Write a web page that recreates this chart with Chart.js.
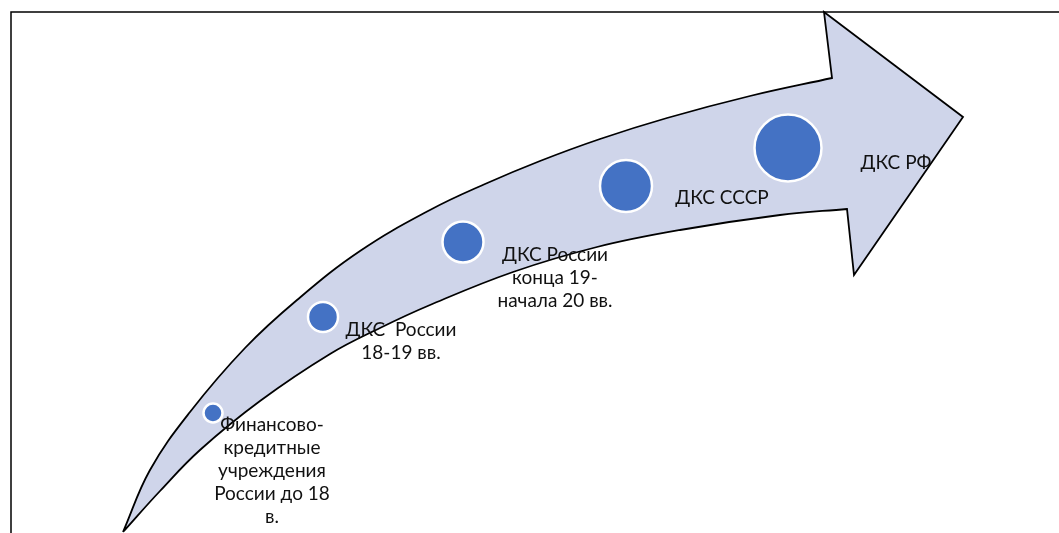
<!DOCTYPE html>
<html>
<head>
<meta charset="utf-8">
<script src="https://cdn.jsdelivr.net/npm/chart.js@4/dist/chart.umd.min.js"></script>
<style>
  html, body { margin: 0; padding: 0; background: #ffffff; }
  #wrap { width: 1059px; height: 533px; }
</style>
</head>
<body>
<div id="wrap"><canvas id="c" width="1059" height="533"></canvas></div>
<script>
// ---- data (diagram units: x to the right, y downward) ----
const arrowUpperEdge = [[123,532],[150,470],[190,412],[245,348],[297,300],[360,251],[430,210],[485,184],[540,161],[600,139],[667,118],[750,96],[832,78]];
const arrowHead = [[824,12],[963,117],[854,275],[847,209]];
const arrowLowerEdge = [[780,215],[680,230],[597,247],[513,272],[430,305],[380,328],[330,354],[260,401],[200,450],[160,491],[123,532]];

const stageNames = [
  ["Финансово-", "кредитные", "учреждения", "России до 18", "в."],
  ["ДКС  России", "18-19 вв."],
  ["ДКС России", "конца 19-", "начала 20 вв."],
  ["ДКС СССР"],
  ["ДКС РФ"]
];
const bubbleX = [213, 323, 463, 626, 788];
const bubbleY = [413, 317, 242, 186, 148];
const bubbleR = [9.5, 15, 20.5, 26, 33.5];
const labelX = [272, 401, 555, 722, 896];
const labelY = [425, 330, 255, 198, 163];

const frameBox = { left: 11, top: 12, right: 1075, bottom: 550 };

// ---- build datasets ----
// corners are doubled so the smooth line keeps them sharp
const dup = p => [p, p];
const arrowPath = [].concat(
  arrowUpperEdge.slice(0, -1),
  dup(arrowUpperEdge[arrowUpperEdge.length - 1]),
  ...arrowHead.map(dup),
  arrowLowerEdge
);
const arrowPoints = arrowPath.map(p => ({ x: p[0], y: p[1] }));
const bubblePoints = bubbleX.map((x, i) => ({ x: x, y: bubbleY[i], r: bubbleR[i] }));

const FONT = '19px "Lato", "Noto Sans", sans-serif';

const framePlugin = {
  id: 'frame',
  beforeDatasetsDraw(chart) {
    const { ctx, scales: { x, y } } = chart;
    ctx.save();
    ctx.strokeStyle = '#000000';
    ctx.lineWidth = 1.5;
    const l = x.getPixelForValue(frameBox.left), t = y.getPixelForValue(frameBox.top);
    const r = x.getPixelForValue(frameBox.right), b = y.getPixelForValue(frameBox.bottom);
    ctx.strokeRect(l, t, r - l, b - t);
    ctx.restore();
  }
};

const labelPlugin = {
  id: 'stageLabels',
  afterDatasetsDraw(chart) {
    const { ctx, scales: { x, y } } = chart;
    ctx.save();
    ctx.font = FONT;
    ctx.fillStyle = '#111111';
    ctx.textAlign = 'center';
    ctx.textBaseline = 'middle';
    const lh = 23;
    stageNames.forEach((lines, i) => {
      const px = x.getPixelForValue(labelX[i]);
      const py = y.getPixelForValue(labelY[i]);
      lines.forEach((s, k) => ctx.fillText(s, px, py + k * lh));
    });
    ctx.restore();
  }
};

new Chart(document.getElementById('c'), {
  type: 'scatter',
  data: {
    datasets: [
      {
        type: 'bubble',
        label: 'Этапы',
        data: bubblePoints,
        backgroundColor: '#4472C4',
        borderColor: '#ffffff',
        borderWidth: 2.5,
        hoverRadius: 0,
        clip: false,
        order: 0
      },
      {
        type: 'line',
        label: 'Стрелка',
        data: arrowPoints,
        showLine: true,
        tension: 0.4,
        capBezierPoints: false,
        fill: 'shape',
        backgroundColor: '#CFD5EA',
        borderColor: '#000000',
        borderWidth: 1.8,
        borderJoinStyle: 'miter',
        pointRadius: 0,
        pointHoverRadius: 0,
        clip: false,
        order: 1
      }
    ]
  },
  options: {
    responsive: false,
    animation: false,
    events: [],
    layout: { padding: 0, autoPadding: false },
    plugins: { legend: { display: false }, tooltip: { enabled: false } },
    scales: {
      x: { type: 'linear', min: 0, max: 1059, display: false },
      y: { type: 'linear', min: 0, max: 533, reverse: true, display: false }
    }
  },
  plugins: [framePlugin, labelPlugin]
});
</script>
</body>
</html>
